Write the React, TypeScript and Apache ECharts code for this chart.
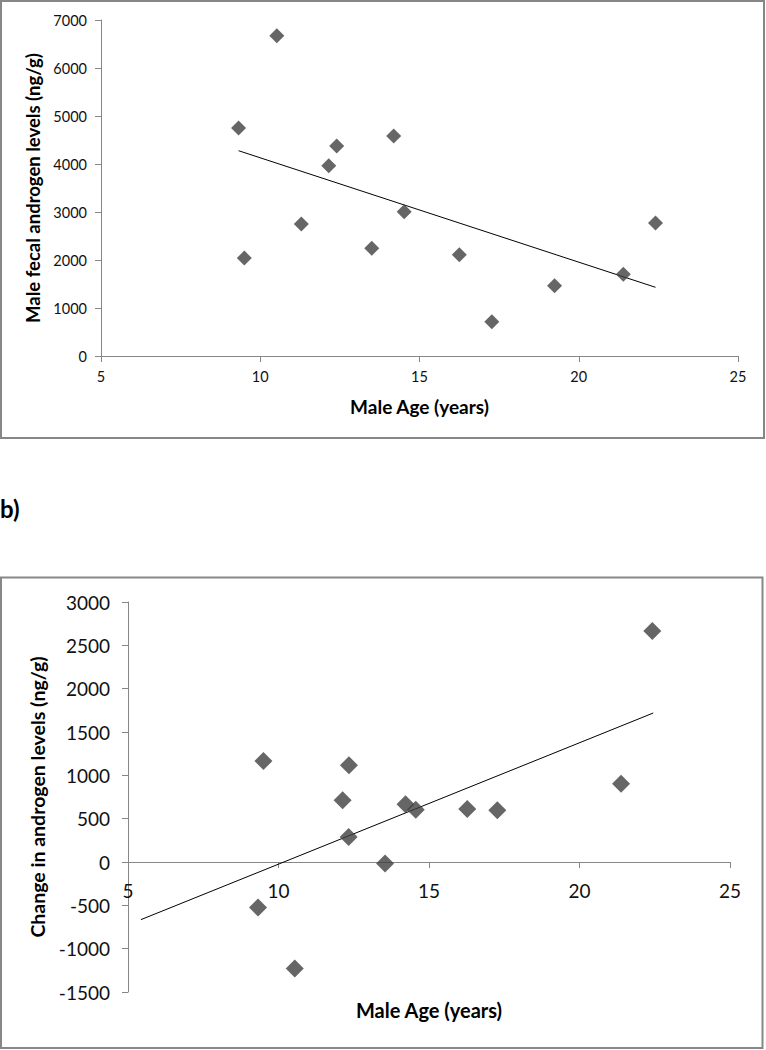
import React, { useEffect, useRef } from "react";
import * as echarts from "echarts";

// Panel a) : age vs fecal androgen levels
const ageA = [9.32, 9.5, 10.52, 11.29, 12.15, 12.4, 13.5, 14.19, 14.52, 16.25, 17.27, 19.24, 21.4, 22.41];
const androA = [4750, 2040, 6670, 2750, 3965, 4375, 2243, 4583, 3006, 2110, 715, 1465, 1702, 2771];
const trendAx = [9.32, 22.41];
const trendAy = [4277, 1431];

// Panel b) : age vs change in androgen levels
const ageB = [9.5, 12.34, 12.13, 12.33, 13.54, 9.32, 10.54, 14.22, 14.56, 16.27, 17.27, 21.38, 22.42];
const changeB = [1165, 1116, 712, 289, -18, -526, -1230, 666, 604, 612, 596, 904, 2665];
const trendBx = [5.43, 22.45];
const trendBy = [-665, 1719];

const xTicks = [5, 10, 15, 20, 25];
const xTitle = "Male Age (years)";
const yTitleA = "Male fecal androgen levels (ng/g)";
const yTitleB = "Change in androgen levels (ng/g)";
const panelLabel = "b)";

const FONT = "Lato, 'Open Sans', sans-serif";
const AXIS_GREY = "#878787";
const MARK = "#404040";

export default function App() {
  const ref = useRef<HTMLDivElement>(null);
  useEffect(() => {
    document.body.style.margin = "0";
    const chart = echarts.init(ref.current!, undefined, { renderer: "svg" });
    const axisCommon = {
      axisLine: { show: true, onZero: false, lineStyle: { color: AXIS_GREY, width: 1 } },
      axisTick: { show: true, length: 6, lineStyle: { color: AXIS_GREY } },
      splitLine: { show: false },
    };
    const plain = (v: number) => String(v);
    const zipPts = (xs: number[], ys: number[]) => xs.map((x, i) => [x, ys[i]]);
    chart.setOption({
      animation: false,
      backgroundColor: "#fff",
      textStyle: { fontFamily: FONT },
      grid: [
        { left: 101, top: 20, width: 637, height: 336, outerBoundsMode: "none", containLabel: false },
        { left: 128, top: 602, width: 602, height: 390, outerBoundsMode: "none", containLabel: false },
      ],
      xAxis: [
        {
          gridIndex: 0, type: "value", min: xTicks[0], max: xTicks[xTicks.length - 1], interval: 5,
          ...axisCommon,
          axisLabel: { color: "#111", fontSize: 14.5, margin: 13, fontFamily: FONT, formatter: plain },
          name: xTitle, nameLocation: "middle", nameGap: 41,
          nameTextStyle: { fontWeight: "bold", fontSize: 19, color: "#000", fontFamily: FONT },
        },
        {
          gridIndex: 1, type: "value", min: xTicks[0], max: xTicks[xTicks.length - 1], interval: 5,
          ...axisCommon,
          position: "bottom", offset: -130,
          axisLabel: { color: "#111", fontSize: 19, margin: 19, fontFamily: FONT, formatter: plain },
          name: xTitle, nameLocation: "middle", nameGap: 138,
          nameTextStyle: { fontWeight: "bold", fontSize: 20, color: "#000", fontFamily: FONT },
        },
      ],
      yAxis: [
        {
          gridIndex: 0, type: "value", min: 0, max: 7000, interval: 1000,
          ...axisCommon,
          axisLabel: { color: "#111", fontSize: 14.5, margin: 14, fontFamily: FONT, formatter: plain },
          name: yTitleA, nameLocation: "middle", nameGap: 56, nameRotate: 90,
          nameTextStyle: { fontWeight: "bold", fontSize: 18.5, color: "#000", fontFamily: FONT },
        },
        {
          gridIndex: 1, type: "value", min: -1500, max: 3000, interval: 500,
          ...axisCommon,
          axisLabel: { color: "#111", fontSize: 19, margin: 18, fontFamily: FONT, formatter: plain },
          name: yTitleB, nameLocation: "middle", nameGap: 78, nameRotate: 90,
          nameTextStyle: { fontWeight: "bold", fontSize: 19.5, color: "#000", fontFamily: FONT },
        },
      ],
      series: [
        {
          type: "line", xAxisIndex: 0, yAxisIndex: 0, data: zipPts(trendAx, trendAy),
          showSymbol: false, symbol: "none", lineStyle: { color: "#000", width: 1 }, z: 1,
        },
        {
          type: "scatter", xAxisIndex: 0, yAxisIndex: 0, data: zipPts(ageA, androA),
          symbol: "diamond", symbolSize: [15, 15], itemStyle: { color: MARK }, z: 2,
        },
        {
          type: "line", xAxisIndex: 1, yAxisIndex: 1, data: zipPts(trendBx, trendBy),
          showSymbol: false, symbol: "none", lineStyle: { color: "#000", width: 1 }, z: 1,
        },
        {
          type: "scatter", xAxisIndex: 1, yAxisIndex: 1, data: zipPts(ageB, changeB),
          symbol: "diamond", symbolSize: [18, 18], itemStyle: { color: MARK }, z: 2,
        },
      ],
      graphic: [
        {
          type: "rect", shape: { x: 1, y: 1, width: 763, height: 437 },
          style: { fill: "none", stroke: AXIS_GREY, lineWidth: 2 }, silent: true,
        },
        {
          type: "rect", shape: { x: 1, y: 577.5, width: 761.5, height: 470.5 },
          style: { fill: "none", stroke: AXIS_GREY, lineWidth: 2 }, silent: true,
        },
        {
          type: "text", left: 0, top: 496,
          style: { text: panelLabel, fontSize: 24, fontWeight: "bold", fill: "#000", fontFamily: FONT },
        },
      ],
    });
    return () => chart.dispose();
  }, []);
  return <div ref={ref} style={{ width: 766, height: 1050 }} />;
}
